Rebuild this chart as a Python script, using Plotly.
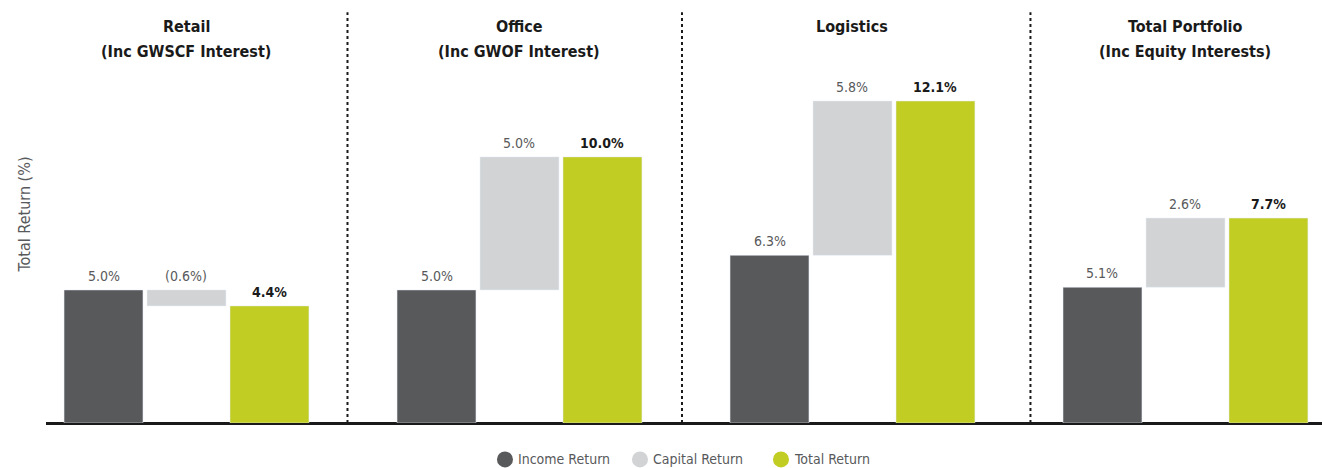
"""Return breakdown by sector: income, capital and total return."""

import plotly.graph_objects as go

TITLE_MAIN = ["Retail", "Office", "Logistics", "Total Portfolio"]
TITLE_SUB = ["(Inc GWSCF Interest)", "(Inc GWOF Interest)", "", "(Inc Equity Interests)"]
INCOME = [5.0, 5.0, 6.3, 5.1]
CAPITAL = [-0.6, 5.0, 5.8, 2.6]
TOTAL = [4.4, 10.0, 12.1, 7.7]
SERIES = ["Income Return", "Capital Return", "Total Return"]

INCOME_COLOR = "#58595b"
CAPITAL_COLOR = "#d1d3d4"
TOTAL_COLOR = "#c1cd23"
COLORS = [INCOME_COLOR, CAPITAL_COLOR, TOTAL_COLOR]
LABEL_COLOR = "#58595b"
DARK = "#1a1a1a"
FONT = "DejaVu Sans Condensed, DejaVu Sans, sans-serif"

SLOT = 0.2492  # distance between bars inside a group
BAR_W = 0.237
SEPARATORS = [0.4835, 1.488, 2.5345]
LEGEND_X = [0.3597, 0.4655, 0.5760]  # paper x of the legend dots
LEGEND_Y = -0.0874


def pct(v):
    return f"({abs(v):.1f}%)" if v < 0 else f"{v:.1f}%"


idx = list(range(len(TITLE_MAIN)))
x_inc = [i - SLOT for i in idx]
x_cap = list(idx)
x_tot = [i + SLOT for i in idx]

fig = go.Figure()
fig.add_trace(go.Bar(x=x_inc, y=INCOME, width=BAR_W, marker_color=INCOME_COLOR, name=SERIES[0]))
fig.add_trace(go.Bar(x=x_cap, y=CAPITAL, base=INCOME, width=BAR_W, marker_color=CAPITAL_COLOR, name=SERIES[1]))
fig.add_trace(go.Bar(x=x_tot, y=TOTAL, width=BAR_W, marker_color=TOTAL_COLOR, name=SERIES[2]))

# value labels above bars + group headings
for i in idx:
    cap_top = max(INCOME[i], INCOME[i] + CAPITAL[i])
    for x, y, txt, bold in [
        (x_inc[i], INCOME[i], pct(INCOME[i]), False),
        (x_cap[i], cap_top, pct(CAPITAL[i]), False),
        (x_tot[i], TOTAL[i], pct(TOTAL[i]), True),
    ]:
        fig.add_annotation(
            x=x, y=y, text=f"<b>{txt}</b>" if bold else txt, showarrow=False,
            yanchor="bottom", yshift=4,
            font=dict(family=FONT, size=14, color=DARK if bold else LABEL_COLOR),
        )
    for line, shift in [(TITLE_MAIN[i], -9), (TITLE_SUB[i], -34)]:
        if line:
            fig.add_annotation(
                x=i, y=1, xref="x", yref="paper", text=f"<b>{line}</b>", showarrow=False,
                yanchor="top", yshift=shift, font=dict(family=FONT, size=16, color=DARK),
            )

for sx in SEPARATORS:
    fig.add_shape(type="line", x0=sx, x1=sx, y0=0, y1=0.985, xref="x", yref="paper",
                  line=dict(color=DARK, width=2, dash="dot"))

# legend drawn by hand: round dots sitting on the bottom edge, as in the source
for lx, name, color in zip(LEGEND_X, SERIES, COLORS):
    fig.add_shape(type="circle", xref="paper", yref="paper", xsizemode="pixel", ysizemode="pixel",
                  xanchor=lx, yanchor=LEGEND_Y, x0=-8, x1=8, y0=-8, y1=8,
                  fillcolor=color, line_width=0)
    fig.add_annotation(x=lx, y=LEGEND_Y, xref="paper", yref="paper", text=name, showarrow=False,
                       xanchor="left", yanchor="middle", xshift=11,
                       font=dict(family=FONT, size=14, color=LABEL_COLOR))

fig.add_annotation(
    x=-0.0172, y=0.5, xref="paper", yref="paper", xanchor="center", yanchor="middle",
    text="Total Return (%)", textangle=-90, showarrow=False,
    font=dict(family=FONT, size=16, color=LABEL_COLOR),
)

fig.update_xaxes(range=[-0.4219, 3.41], showgrid=False, zeroline=False, showticklabels=False,
                 showline=False)
fig.update_yaxes(range=[0, 15.67], showgrid=False, showticklabels=False, zeroline=True,
                 zerolinecolor=DARK, zerolinewidth=2.5, showline=False)
fig.update_layout(
    width=1322, height=468, barmode="overlay", showlegend=False,
    margin=dict(l=46, r=0, t=6, b=44.5),
    paper_bgcolor="white", plot_bgcolor="white",
    font=dict(family=FONT, size=14, color=LABEL_COLOR),
)

# drop the default page margin so the 1322x468 figure fills the window exactly
fig.write_html("out.html", post_script="document.body.style.margin = '0';",
               config={"displayModeBar": False})
